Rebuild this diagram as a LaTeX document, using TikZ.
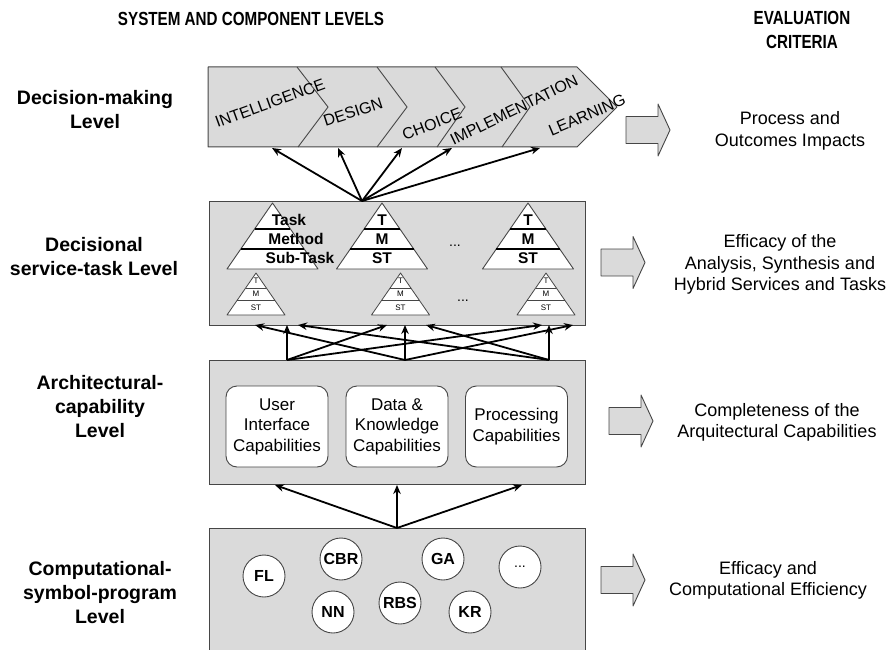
\documentclass[tikz,border=0pt]{standalone}
\usepackage{fontspec}
\setmainfont{Liberation Sans}
\newfontfamily\hdfont[FakeStretch=0.8]{Liberation Sans}
\usetikzlibrary{arrows.meta,calc}
\definecolor{boxgray}{RGB}{218,218,218}
\definecolor{edgegray}{RGB}{70,70,70}
\begin{document}
\begin{tikzpicture}[x=1pt,y=-1pt,
  hdr/.style={font=\hdfont\bfseries\fontsize{19}{24}\selectfont, align=center, inner sep=0pt},
  lvl/.style={font=\bfseries\fontsize{19.5}{24}\selectfont, align=center, inner sep=0pt},
  crit/.style={font=\fontsize{18}{21.5}\selectfont, align=center, inner sep=0pt},
  panel/.style={draw=edgegray, fill=boxgray, line width=1pt, inner sep=0pt},
  conn/.style={line width=1.8pt, -{Stealth[length=9pt,width=7.5pt]}},
  capbox/.style={draw=edgegray, fill=white, rounded corners=11pt, line width=0.9pt,
    minimum width=102pt, minimum height=81pt, align=center, inner sep=0pt,
    font=\fontsize{17}{20.5}\selectfont},
  algo/.style={circle, draw=edgegray, fill=white, line width=0.9pt, minimum size=42pt,
    inner sep=0pt, font=\bfseries\fontsize{16}{16}\selectfont},
  phase/.style={font=\fontsize{16}{16}\selectfont, inner sep=0pt},
  tribig/.style={font=\bfseries\fontsize{15.5}{15.5}\selectfont, inner sep=0pt},
  trismall/.style={font=\fontsize{8}{8}\selectfont, inner sep=0pt},
  dots/.style={font=\fontsize{14}{14}\selectfont, inner sep=0pt},
  blk/.style={draw=edgegray, fill=boxgray, line width=0.9pt, line join=round}
]
\useasboundingbox (0,0) rectangle (894,650);

% headers
\node[hdr] (hsys) at (251,19) {SYSTEM AND COMPONENT LEVELS};
\node[hdr] (heval) at (802,30) {EVALUATION\\CRITERIA};

% level labels
\node[lvl] (l1) at (95,110) {Decision-making\\Level};
\node[lvl] (l2) at (94,257) {Decisional\\service-task Level};
\node[lvl] (l3) at (100,407) {Architectural-\\capability\\Level};
\node[lvl] (l4) at (100,593) {Computational-\\symbol-program\\Level};

% ---- decision-making band
\draw[fill=boxgray, draw=edgegray, line width=1pt, line join=round]
  (208,67) -- (577,67) -- (617,107) -- (577,147) -- (208,147) -- cycle;
\draw[edgegray, line width=0.9pt] (297,67) -- (328,107) -- (298,147);
\draw[edgegray, line width=0.9pt] (377,67) -- (407,107) -- (377,147);
\draw[edgegray, line width=0.9pt] (435,67) -- (465,107) -- (437,147);
\draw[edgegray, line width=0.9pt] (501,67) -- (530,107) -- (502,147);
\node[phase, rotate=20] (ph1) at (270,103) {INTELLIGENCE};
\node[phase, rotate=18] (ph2) at (353,112) {DESIGN};
\node[phase, rotate=21] (ph3) at (432,124) {CHOICE};
\node[phase, rotate=26] (ph4) at (514,110) {IMPLEMENTATION};
\node[phase, rotate=23] (ph5) at (587,115) {LEARNING};

% ---- decisional service-task level
\node[panel, minimum width=376pt, minimum height=124pt] (p2) at (397,263) {};
\foreach \cx in {272.5,382,528}{
  \draw[edgegray, fill=white, line width=0.9pt, line join=round]
    (\cx,203) -- (\cx+45.5,269) -- (\cx-45.5,269) -- cycle;
  \draw[line width=1.8pt] (\cx-17.9,229) -- (\cx+17.9,229);
  \draw[line width=1.8pt] (\cx-31.7,249) -- (\cx+31.7,249);
}
\foreach \cx in {256,400.5,546}{
  \draw[edgegray, fill=white, line width=0.8pt, line join=round]
    (\cx,273) -- (\cx+29,315) -- (\cx-29,315) -- cycle;
  \draw[edgegray, line width=0.8pt] (\cx-10.4,288) -- (\cx+10.4,288);
  \draw[edgegray, line width=0.8pt] (\cx-18.6,300) -- (\cx+18.6,300);
  \node[trismall] at (\cx,281) {T};
  \node[trismall] at (\cx,294) {M};
  \node[trismall] at (\cx,307.5) {ST};
}
\node[tribig] (tk) at (289,220) {Task};
\node[tribig] (me) at (296,239) {Method};
\node[tribig] (sb) at (300,258) {Sub-Task};
\node[tribig] (t2) at (382,220) {T};
\node[tribig] (m2) at (382,239) {M};
\node[tribig] (s2) at (382,258) {ST};
\node[tribig] (t3) at (528,220) {T};
\node[tribig] (m3) at (528,239) {M};
\node[tribig] (s3) at (528,258) {ST};
\node[dots] (dd1) at (455,246) {...};
\node[dots] (dd2) at (463,301) {...};

% decision arrows
\coordinate (dsrc) at (362,201);
\coordinate (dt1) at (272,148);
\coordinate (dt2) at (338,148);
\coordinate (dt3) at (402,148);
\coordinate (dt4) at (452,148);
\coordinate (dt5) at (540,148);
\foreach \t in {dt1,dt2,dt3,dt4,dt5} \draw[conn] (dsrc) -- (\t);

% ---- architectural level
\node[panel, minimum width=376pt, minimum height=124pt] (p3) at (397,422) {};
\node[capbox] (c1) at (277,426.5) {User\\Interface\\Capabilities};
\node[capbox] (c2) at (397,426.5) {Data \&\\Knowledge\\Capabilities};
\node[capbox] (c3) at (516.5,426.5) {Processing\\Capabilities};

% cross arrows
\coordinate (s1) at (287,360);
\coordinate (s2) at (405,360);
\coordinate (s3) at (549,360);
\coordinate (u1) at (255,325);
\coordinate (u2) at (287,325);
\coordinate (u3) at (298,325);
\coordinate (u4) at (387,325);
\coordinate (u5) at (405,325);
\coordinate (u6) at (426,325);
\coordinate (u7) at (542,325);
\coordinate (u8) at (549,325);
\coordinate (u9) at (573,325);
\draw[conn] (s1) -- (u2);
\draw[conn] (s1) -- (u4);
\draw[conn] (s1) -- (u7);
\draw[conn] (s2) -- (u1);
\draw[conn] (s2) -- (u5);
\draw[conn] (s2) -- (u9);
\draw[conn] (s3) -- (u3);
\draw[conn] (s3) -- (u6);
\draw[conn] (s3) -- (u8);

% ---- computational level
\fill[boxgray] (209,528) rectangle (585,652);
\draw[edgegray, line width=1pt] (209,652) -- (209,528) -- (585,528) -- (585,652);
\node[algo] (fl) at (264,576) {FL};
\node[algo] (cbr) at (341,559) {CBR};
\node[algo] (ga) at (443,559) {GA};
\node[algo, font=\fontsize{14}{14}\selectfont] (more) at (520,567) {...};
\node[algo] (nn) at (333,612) {NN};
\node[algo] (rbs) at (400,603) {RBS};
\node[algo] (kr) at (470,612) {KR};

\coordinate (csrc) at (397,528);
\coordinate (ct1) at (275,485);
\coordinate (ct2) at (397,485);
\coordinate (ct3) at (522,485);
\draw[conn] (csrc) -- (ct1);
\draw[conn] (csrc) -- (ct2);
\draw[conn] (csrc) -- (ct3);

% ---- block arrows
\foreach \x/\y in {626/130, 601/262.5, 609/421, 601/580}{
  \draw[blk] (\x,\y-13.5) -- (\x+32,\y-13.5) -- (\x+32,\y-26) -- (\x+44,\y)
    -- (\x+32,\y+26) -- (\x+32,\y+13.5) -- (\x,\y+13.5) -- cycle;
}

% evaluation criteria
\node[crit] (e1) at (790,131) {Process and\\Outcomes Impacts};
\node[crit] (e2) at (780,264.5) {Efficacy of the\\Analysis, Synthesis and\\Hybrid Services and Tasks};
\node[crit] (e3) at (777,422.5) {Completeness of the\\Arquitectural Capabilities};
\node[crit] (e4) at (768,580.5) {Efficacy and\\Computational Efficiency};
\end{tikzpicture}
\end{document}
